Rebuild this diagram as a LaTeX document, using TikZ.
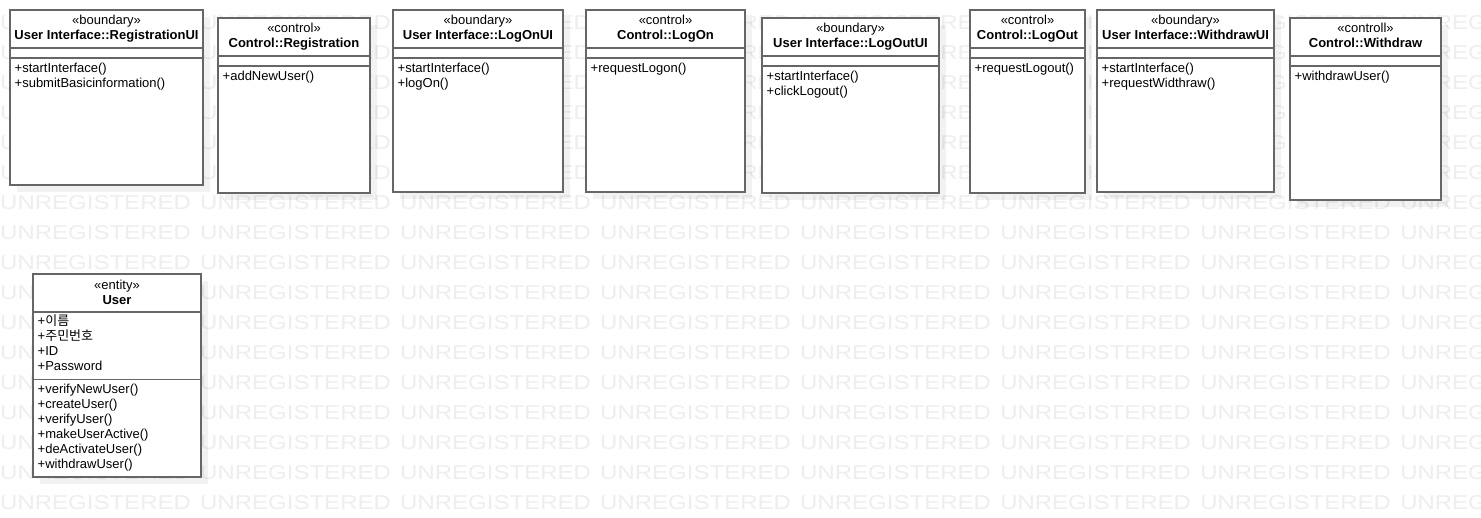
\documentclass[tikz,border=0pt]{standalone}
\usepackage{fontspec}
\setmainfont{Liberation Sans}
\newfontfamily\krfont{Noto Sans CJK KR}
\usetikzlibrary{calc}
\definecolor{wmc}{HTML}{EEEEEE}
\definecolor{linec}{HTML}{666666}
\tikzset{
  box/.style={draw=linec, line width=1.6pt, fill=white, inner sep=0pt, outer sep=0pt, anchor=north west},
  sepline/.style={draw=linec, line width=1.6pt},
  shad/.style={fill=black, opacity=0.05},
  txt/.style={inner sep=0pt, font=\fontsize{13}{15}\selectfont, anchor=base west},
  ster/.style={inner sep=0pt, font=\fontsize{13}{15}\selectfont, anchor=base},
  cname/.style={inner sep=0pt, font=\fontsize{13}{15}\selectfont\bfseries, anchor=base},
  wm/.style={inner sep=0pt, text=wmc, font=\fontsize{20}{24}\selectfont, anchor=base west, xscale=1.2},
}
% #1 name, #2 x, #3 y, #4 w, #5 h, #6 stereotype, #7 class name, #8 operations
\newcommand\umlclass[8]{%
  \fill[shad] (#2+7,#3+7) rectangle ++(#4,#5);
  \node[box, minimum width=#4pt, minimum height=#5pt] (#1) at (#2,#3) {};
  \draw[sepline] ($(#1.north west)+(0,38)$) -- ($(#1.north east)+(0,38)$);
  \draw[sepline] ($(#1.north west)+(0,48)$) -- ($(#1.north east)+(0,48)$);
  \node[ster] (#1-st) at ($(#1.north)+(0,14.5)$) {«#6»};
  \node[cname] (#1-nm) at ($(#1.north)+(0,29.5)$) {#7};
  \foreach \m [count=\i] in {#8} {\node[txt] (#1-m\i) at ($(#1.north west)+(4.5,47.5+15*\i)$) {\m};}
}
\begin{document}
\begin{tikzpicture}[x=1pt, y=-1pt]
\path[use as bounding box, fill=white] (0,0) rectangle (1481,517);
\begin{scope}
\clip (0,0) rectangle (1481,517);
\foreach \r in {0,...,16} {
  \foreach \c in {0,...,7} {
    \node[wm] (wm-\r-\c) at (200*\c, 29+30*\r) {UNREGISTERED};
  }
}
\end{scope}

\umlclass{regui}{10}{10}{193}{175}{boundary}{User Interface::RegistrationUI}{{+startInterface()},{+submitBasicinformation()}}
\umlclass{reg}{218}{18}{152}{175}{control}{Control::Registration}{{+addNewUser()}}
\umlclass{logonui}{393}{10}{170}{182}{boundary}{User Interface::LogOnUI}{{+startInterface()},{+logOn()}}
\umlclass{logon}{586}{10}{159}{182}{control}{Control::LogOn}{{+requestLogon()}}
\umlclass{logoutui}{762}{18}{177}{175}{boundary}{User Interface::LogOutUI}{{+startInterface()},{+clickLogout()}}
\umlclass{logout}{970}{10}{115}{183}{control}{Control::LogOut}{{+requestLogout()}}
\umlclass{withdrawui}{1097}{10}{177}{182}{boundary}{User Interface::WithdrawUI}{{+startInterface()},{+requestWidthraw()}}
\umlclass{withdraw}{1290}{18}{151}{182}{controll}{Control::Withdraw}{{+withdrawUser()}}

% entity User
\fill[shad] (40,281) rectangle ++(168,203);
\node[box, minimum width=168pt, minimum height=203pt] (user) at (33,274) {};
\draw[sepline] ($(user.north west)+(0,38)$) -- ($(user.north east)+(0,38)$);
\draw[sepline] ($(user.north west)+(0,105.5)$) -- ($(user.north east)+(0,105.5)$);
\node[ster] (user-st) at ($(user.north)+(0,15)$) {«entity»};
\node[cname] (user-nm) at ($(user.north)+(0,30)$) {User};
\foreach \m [count=\i] in {{+\krfont 이름},{+\krfont 주민번호},{+ID},{+Password}}
  {\node[txt] (user-a\i) at ($(user.north west)+(4.5,36.5+15*\i)$) {\m};}
\foreach \m [count=\i] in {{+verifyNewUser()},{+createUser()},{+verifyUser()},{+makeUserActive()},{+deActivateUser()},{+withdrawUser()}}
  {\node[txt] (user-m\i) at ($(user.north west)+(4.5,104.5+15*\i)$) {\m};}
\end{tikzpicture}
\end{document}
